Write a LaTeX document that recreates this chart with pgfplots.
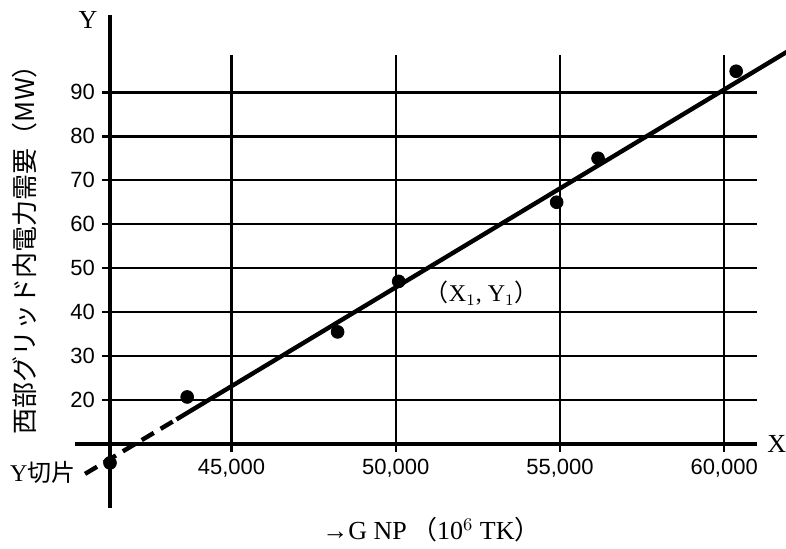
\documentclass[border=0pt]{standalone}
\usepackage{fontspec}
\setmainfont{Liberation Serif}
\newfontfamily\cjk{Noto Sans CJK JP}
\newfontfamily\sansf{Liberation Sans}
\usepackage{pgfplots}
\pgfplotsset{compat=1.18}
\begin{document}
\begin{tikzpicture}
\begin{axis}[
  scale only axis, width=323.5pt, height=194.5pt,
  xmin=41300, xmax=61000, ymin=10, ymax=98.5,
  clip=false,
  axis lines=left,
  axis line style={-, line width=1.8pt},
  scaled x ticks=false,
  xtick={45000,50000,55000,60000},
  xticklabels={{45,000},{50,000},{55,000},{60,000}},
  ytick={20,30,40,50,60,70,80,90},
  grid=major,
  major grid style={black, line width=1.2pt},
  tick align=outside, major tick length=4pt,
  tick style={black, line width=1.2pt},
  ticklabel style={font=\sansf\fontsize{11}{11}\selectfont},
  /pgf/number format/assume math mode=true,
]
\coordinate (O) at (axis cs:41300,10);
% extended axis lines
\draw[line width=1.8pt] (axis cs:40233,10) -- (axis cs:61000,10);
\draw[line width=1.8pt] (axis cs:41300,-4.5) -- (axis cs:41300,107.7);
% fitted line
\addplot[black, line width=2.2pt, dash pattern=on 7pt off 4pt] coordinates {(40540,3.2) (43323,15.6)};
\addplot[black, line width=2.2pt] coordinates {(43323,15.6) (61950,99.4)};
% data points
\addplot[only marks, mark=*, mark size=3.2pt, black] coordinates {
  (41300,5.7) (43650,20.7) (48230,35.5) (50090,47.0) (54900,65.0) (56160,75.0) (60366,94.8)};
% labels
\node[font=\fontsize{13}{13}\selectfont] at (axis cs:40630,106.4) {Y};
\node[font=\fontsize{13}{13}\selectfont] at (axis cs:61600,10) {X};
\node[font=\fontsize{12}{12}\selectfont] at (axis cs:39257,3.6) {Y{\cjk 切片}};
\node[font=\fontsize{12}{12}\selectfont] at (axis cs:52620,44.3) {{\cjk （}X$_1$, Y$_1${\cjk ）}};
\node[font=\fontsize{13}{13}\selectfont] at (axis cs:51087,-9.5) {→G NP\,{\cjk （}10$^6$ TK{\cjk ）}};
\node[rotate=90, font=\cjk\fontsize{13}{13}\selectfont] at (axis cs:38708,55.7) {西部グリッド内電力需要（MW）};
\end{axis}
\pgfresetboundingbox
\path[use as bounding box] (O) ++(-55pt,-52.5pt) rectangle ++(393pt,274.5pt);
\end{tikzpicture}
\end{document}
